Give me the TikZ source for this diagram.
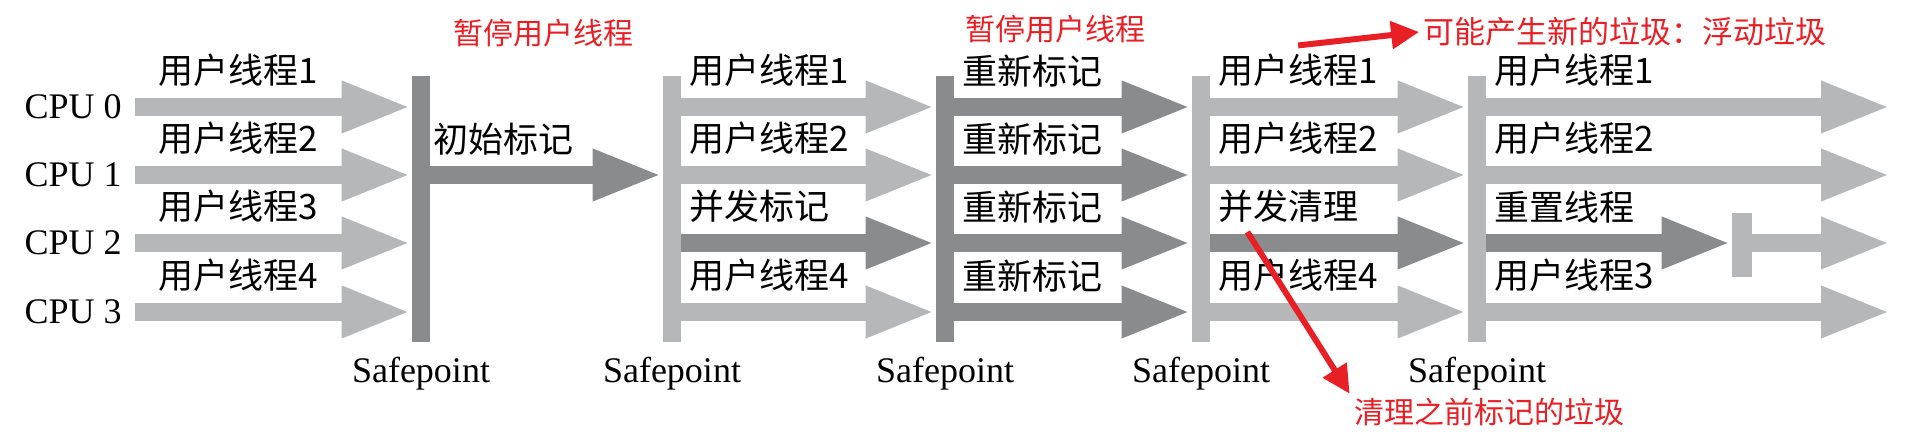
\documentclass[tikz,border=0pt]{standalone}
\usepackage{fontspec}
\setmainfont{Liberation Serif}
\newfontfamily\cjk{Noto Sans CJK SC}
\usepackage{xcolor}
\usepackage{tikz}
\usetikzlibrary{arrows.meta, positioning}

\definecolor{ThreadGray}{RGB}{181,183,185}
\definecolor{MarkGray}{RGB}{138,139,141}
\definecolor{NoteRed}{RGB}{232,32,38}

\begin{document}
\begin{tikzpicture}[x=0.5pt, y=-0.5pt,
  cpu/.style={font=\fontsize{18}{18}\selectfont, anchor=east, inner sep=0pt},
  %
  safepoint/.style={rectangle, fill=ThreadGray, minimum width=9pt,
    minimum height=133pt, inner sep=0pt},
  %
  pause/.style={safepoint, fill=MarkGray},
  %
  thread/.style={line width=9pt, ThreadGray,
    -{Triangle[length=35pt, width=23.5pt]}},
  %
  gcwork/.style={thread, MarkGray},
  %
  tag/.style={font=\cjk\fontsize{17.5}{17.5}\selectfont, text=black,
    inner xsep=1pt, inner ysep=0pt, anchor=south west, pos=0, yshift=5.5pt},
  %
  caption/.style={font=\fontsize{18}{18}\selectfont, inner sep=0pt},
  %
  note/.style={font=\cjk\fontsize{15}{15}\selectfont, text=NoteRed,
    inner sep=2pt},
  %
  remark/.style={NoteRed, line width=3pt,
    -{Triangle[length=14pt, width=13.5pt]}}
  ]

  \useasboundingbox (0,0) rectangle (1930,440);

  %%%%%%%%%%%%%%%%%%%%%%%%%%%%%%% cpus and safepoints
  \node[cpu] (cpu0) at (122,107) {CPU 0};
  \node[cpu] (cpu1) at (122,175) {CPU 1};
  \node[cpu] (cpu2) at (122,243) {CPU 2};
  \node[cpu] (cpu3) at (122,312) {CPU 3};

  \node[pause] (sp1) at (421,209) {};
  \node[safepoint] (sp2) at (672,209) {};
  \node[pause] (sp3) at (945,209) {};
  \node[safepoint] (sp4) at (1201,209) {};
  \node[safepoint] (sp5) at (1477,209) {};
  \node[safepoint, minimum width=10pt, minimum height=32pt] (stop) at (1742,245) {};
  \coordinate (end) at (1891,0);

  \node[caption, below=7pt of sp1] (cap1) {Safepoint};
  \node[caption, below=7pt of sp2] (cap2) {Safepoint};
  \node[caption, below=7pt of sp3] (cap3) {Safepoint};
  \node[caption, below=7pt of sp4] (cap4) {Safepoint};
  \node[caption, below=7pt of sp5] (cap5) {Safepoint};

  %%%%%%%%%%%%%%%%%%%%%%%%%%%%%%% threads
  \begin{scope}
    \draw[thread] ([xshift=6.5pt]cpu0.east) -- (sp1.west |- cpu0)
      node[tag, xshift=6pt] {用户线程1};
    \draw[thread] ([xshift=6.5pt]cpu1.east) -- (sp1.west |- cpu1)
      node[tag, xshift=6pt] {用户线程2};
    \draw[thread] ([xshift=6.5pt]cpu2.east) -- (sp1.west |- cpu2)
      node[tag, xshift=6pt] {用户线程3};
    \draw[thread] ([xshift=6.5pt]cpu3.east) -- (sp1.west |- cpu3)
      node[tag, xshift=6pt] {用户线程4};

    \draw[gcwork] (sp1.east |- cpu1) -- (sp2.west |- cpu1)
      node[tag, xshift=-4pt] {初始标记};

    \draw[thread] (sp2.east |- cpu0) -- (sp3.west |- cpu0) node[tag, xshift=-1.5pt] {用户线程1};
    \draw[thread] (sp2.east |- cpu1) -- (sp3.west |- cpu1) node[tag, xshift=-1.5pt] {用户线程2};
    \draw[gcwork] (sp2.east |- cpu2) -- (sp3.west |- cpu2) node[tag, xshift=-1.5pt] {并发标记};
    \draw[thread] (sp2.east |- cpu3) -- (sp3.west |- cpu3) node[tag, xshift=-1.5pt] {用户线程4};

    \draw[gcwork] (sp3.east |- cpu0) -- (sp4.west |- cpu0) node[tag, xshift=-1.5pt] {重新标记};
    \draw[gcwork] (sp3.east |- cpu1) -- (sp4.west |- cpu1) node[tag, xshift=-1.5pt] {重新标记};
    \draw[gcwork] (sp3.east |- cpu2) -- (sp4.west |- cpu2) node[tag, xshift=-1.5pt] {重新标记};
    \draw[gcwork] (sp3.east |- cpu3) -- (sp4.west |- cpu3) node[tag, xshift=-1.5pt] {重新标记};

    \draw[thread] (sp4.east |- cpu0) -- (sp5.west |- cpu0) node[tag, xshift=-1.5pt] (t41) {用户线程1};
    \draw[thread] (sp4.east |- cpu1) -- (sp5.west |- cpu1) node[tag, xshift=-1.5pt] {用户线程2};
    \draw[gcwork] (sp4.east |- cpu2) -- (sp5.west |- cpu2) node[tag, xshift=-1.5pt] (t42) {并发清理};
    \draw[thread] (sp4.east |- cpu3) -- (sp5.west |- cpu3) node[tag, xshift=-1.5pt] {用户线程4};

    \draw[thread] (sp5.east |- cpu0) -- (end |- cpu0) node[tag, xshift=-1.5pt] {用户线程1};
    \draw[thread] (sp5.east |- cpu1) -- (end |- cpu1) node[tag, xshift=-1.5pt] {用户线程2};
    \draw[gcwork] (sp5.east |- cpu2) -- (stop.west |- cpu2) node[tag, xshift=-1.5pt] {重置线程};
    \draw[thread] (stop.east |- cpu2) -- (end |- cpu2);
    \draw[thread] (sp5.east |- cpu3) -- (end |- cpu3) node[tag, xshift=-1.5pt] {用户线程3};
  \end{scope}

  %%%%%%%%%%%%%%%%%%%%%%%%%%%%%%% red notes
  \begin{scope}
    \node[note] (pause1) at (543,33) {暂停用户线程};
    \node[note] (pause2) at (1055,29) {暂停用户线程};
    \node[note, font=\cjk\fontsize{15.5}{15.5}\selectfont] (float) at (1625,32)
      {可能产生新的垃圾：浮动垃圾};
    \node[note] (clean) at (1489,412) {清理之前标记的垃圾};

    \draw[remark] (t41.north) -- (float.west);
    \draw[remark] ([xshift=20pt]t42.south west) -- (clean.north west);
  \end{scope}

\end{tikzpicture}
\end{document}
